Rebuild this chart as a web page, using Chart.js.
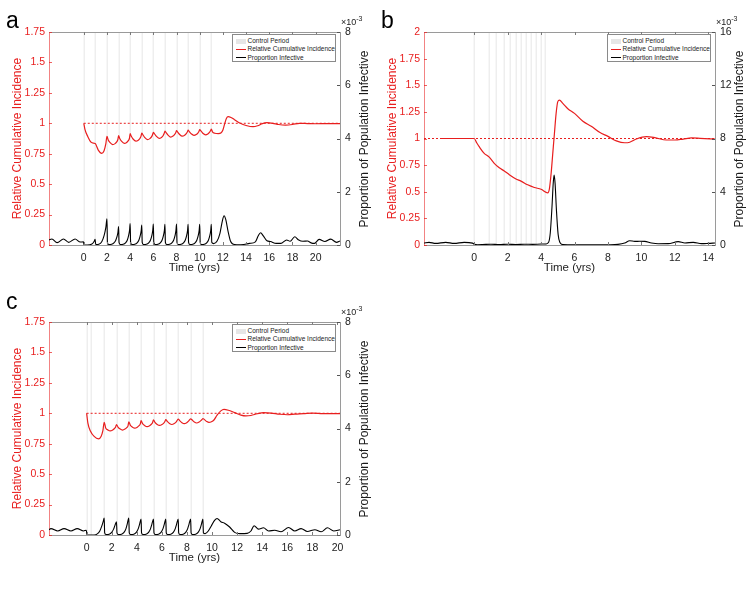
<!DOCTYPE html>
<html><head><meta charset="utf-8">
<script src="https://cdn.jsdelivr.net/npm/chart.js@4.4.1/dist/chart.umd.min.js"></script>
<style>
body{margin:0;background:#fff;width:750px;height:600px;position:relative;overflow:hidden;font-family:"Liberation Sans",Arial,Helvetica,sans-serif;}
.panel{position:absolute;width:375px;height:290px;}
.panel canvas{position:absolute;left:0;top:0;}
.letter{position:absolute;font-size:23px;line-height:23px;color:#000;}
.rtitle{position:absolute;font-size:12px;line-height:14px;white-space:nowrap;transform:translate(-50%,-50%) rotate(-90deg);color:#1a1a1a;}
.expo{position:absolute;font-size:9px;line-height:10px;color:#1a1a1a;white-space:nowrap;}
.expo sup{font-size:7px;vertical-align:4px;line-height:0;}
.legend{position:absolute;border:1px solid #8a8a8a;background:#fff;box-sizing:border-box;}
.legend .row{position:absolute;left:0;height:8px;font-size:6.5px;line-height:8px;color:#222;white-space:nowrap;}
.legend .sw{position:absolute;left:3px;width:10px;}
.legend .tx{position:absolute;left:15px;top:0;}
</style>
</head><body>
<script>
// ---------- axis ranges & ticks ----------
const xRangeA = [-3, 22.1];
const xRangeB = [-3, 14.4];
const xRangeC = [-3, 20.2];
const xTicksA = [0, 2, 4, 6, 8, 10, 12, 14, 16, 18, 20];
const xTicksB = [0, 2, 4, 6, 8, 10, 12, 14];
const xTicksC = [0, 2, 4, 6, 8, 10, 12, 14, 16, 18, 20];
const relTicksA = [0, 0.25, 0.5, 0.75, 1, 1.25, 1.5, 1.75];
const relTicksB = [0, 0.25, 0.5, 0.75, 1, 1.25, 1.5, 1.75, 2];
const relTicksC = [0, 0.25, 0.5, 0.75, 1, 1.25, 1.5, 1.75];
const infTicksA = [0, 2, 4, 6, 8];     // x10^-3
const infTicksB = [0, 4, 8, 12, 16];   // x10^-3
const infTicksC = [0, 2, 4, 6, 8];     // x10^-3
const legendLabels = ['Control Period', 'Relative Cumulative Incidence', 'Proportion Infective'];

// ---------- control periods (years) ----------
const controlA = [0, 1, 2, 3, 4, 5, 6, 7, 8, 9, 10, 11];
const controlB = [0, 0.87, 1.33, 1.79, 2.15, 2.48, 2.82, 3.12, 3.42, 3.7, 3.98, 4.23];
const controlC = [0, 0.32, 1.42, 2.4, 3.37, 4.35, 5.34, 6.32, 7.31, 8.3, 9.28];

// ---------- reference line (relative incidence = 1) ----------
const refLineA = [[0, 1], [22.1, 1]];
const refLineB = [[-3, 1], [14.4, 1]];
const refLineC = [[0, 1], [20.2, 1]];

// ---------- panel a ----------
const relIncA = [[0,1],[0.1,0.95],[0.35,0.89],[0.65,0.843],[0.9,0.836],[1.0,0.832],[1.25,0.78],[1.55,0.753],[1.75,0.775],[1.9,0.83],[2,0.893],
[2.1,0.865],[2.25,0.843],[2.5,0.825],[2.7,0.833],[2.84,0.847],[2.94,0.867],[3,0.898],
[3.1,0.875],[3.25,0.853],[3.5,0.835],[3.7,0.843],[3.84,0.857],[3.94,0.877],[4,0.915],
[4.1,0.893],[4.25,0.871],[4.5,0.853],[4.7,0.861],[4.84,0.875],[4.94,0.895],[5,0.92],
[5.1,0.906],[5.25,0.884],[5.5,0.866],[5.7,0.874],[5.84,0.888],[5.94,0.908],[6,0.926],
[6.1,0.914],[6.25,0.894],[6.5,0.876],[6.7,0.884],[6.84,0.898],[6.94,0.918],[7,0.935],
[7.1,0.923],[7.25,0.905],[7.5,0.887],[7.7,0.895],[7.84,0.909],[7.94,0.925],[8,0.94],
[8.1,0.928],[8.25,0.91],[8.5,0.894],[8.7,0.902],[8.84,0.915],[8.94,0.93],[9,0.943],
[9.1,0.932],[9.25,0.915],[9.5,0.9],[9.7,0.907],[9.84,0.92],[9.94,0.935],[10,0.948],
[10.1,0.937],[10.25,0.92],[10.5,0.905],[10.7,0.912],[10.84,0.925],[10.94,0.94],[11,0.953],
[11.1,0.93],[11.3,0.918],[11.6,0.915],[11.85,0.922],[12,0.945],[12.15,0.995],[12.3,1.04],[12.45,1.055],[12.7,1.048],[13,1.03],[13.5,1.0],[14,0.982],[14.6,0.972],[15,0.98],[15.4,0.997],[15.8,1.005],[16.3,1.0],[16.8,0.99],[17.4,0.985],[18,0.99],[18.6,1.0],[19.3,0.998],[20,0.996],[21,0.998],[22.1,0.998]];
const infA = [[-3,0.19],[-2.75,0.225],[-2.3,0.09],[-1.75,0.225],[-1.3,0.1],[-0.75,0.225],[-0.3,0.11],[-0.03,0.12],[0.03,0.0],[0.5,0.01],[0.75,0.05],[0.9,0.14],[0.98,0.21],[1.03,0.02],[1.3,0.03],[1.55,0.12],[1.75,0.35],[1.9,0.65],[2,0.98],
[2.04,0.1],[2.15,0.02],[2.4,0.03],[2.6,0.08],[2.75,0.17],[2.87,0.32],[2.95,0.49],[3,0.69],
[3.04,0.1],[3.15,0.02],[3.4,0.03],[3.6,0.08],[3.75,0.18],[3.87,0.36],[3.95,0.56],[4,0.81],
[4.04,0.1],[4.15,0.02],[4.4,0.03],[4.6,0.08],[4.75,0.18],[4.87,0.35],[4.95,0.53],[5,0.75],
[5.04,0.1],[5.15,0.02],[5.4,0.03],[5.6,0.08],[5.75,0.18],[5.87,0.35],[5.95,0.55],[6,0.79],
[6.04,0.1],[6.15,0.02],[6.4,0.03],[6.6,0.08],[6.75,0.18],[6.87,0.35],[6.95,0.54],[7,0.78],
[7.04,0.1],[7.15,0.02],[7.4,0.03],[7.6,0.08],[7.75,0.18],[7.87,0.35],[7.95,0.55],[8,0.79],
[8.04,0.1],[8.15,0.02],[8.4,0.03],[8.6,0.08],[8.75,0.18],[8.87,0.35],[8.95,0.54],[9,0.78],
[9.04,0.1],[9.15,0.02],[9.4,0.03],[9.6,0.08],[9.75,0.18],[9.87,0.35],[9.95,0.54],[10,0.78],
[10.04,0.1],[10.15,0.02],[10.4,0.03],[10.6,0.08],[10.75,0.18],[10.87,0.35],[10.95,0.54],[11,0.78],
[11.04,0.1],[11.2,0.05],[11.5,0.15],[11.75,0.45],[11.95,0.9],[12.1,1.1],[12.25,0.95],[12.45,0.5],[12.65,0.15],[12.85,0.04],[13.2,0.01],[13.8,0.02],[14.3,0.06],[14.8,0.12],[15.05,0.35],[15.25,0.46],[15.5,0.33],[15.8,0.16],[16.1,0.13],[16.6,0.06],[17,0.06],[17.5,0.19],[17.8,0.14],[18.2,0.31],[18.5,0.2],[18.9,0.14],[19.3,0.15],[19.6,0.08],[19.9,0.06],[20.3,0.21],[20.8,0.13],[21.3,0.22],[21.8,0.1],[22.1,0.15]];

// ---------- panel b ----------
const relIncB = [[-2,1],[0,1],[0.15,0.96],[0.3,0.923],[0.6,0.86],[0.9,0.825],[1.2,0.767],[1.5,0.725],[1.8,0.695],[2.1,0.66],[2.5,0.62],[2.8,0.6],[3.2,0.565],[3.6,0.54],[4.0,0.523],[4.4,0.49],[4.5,0.53],[4.6,0.67],[4.7,0.86],[4.8,1.05],[4.9,1.236],[5.0,1.346],[5.1,1.36],[5.3,1.33],[5.6,1.28],[6.0,1.236],[6.5,1.162],[7.0,1.115],[7.5,1.058],[8.0,1.02],[8.5,0.978],[9.0,0.96],[9.3,0.965],[9.7,0.995],[10.3,1.017],[10.8,1.008],[11.5,0.986],[12,0.986],[12.5,0.995],[13,1.005],[13.5,1.002],[14.4,0.995]];
const infB = [[-3,0.15],[-2.7,0.2],[-2.3,0.12],[-1.7,0.2],[-1.2,0.12],[-0.6,0.2],[-0.1,0.14],[0.02,0.05],[0.2,0.02],[0.5,0.03],[1.0,0.06],[1.5,0.03],[2.0,0.06],[2.5,0.04],[3.0,0.06],[3.5,0.05],[4.0,0.07],[4.3,0.08],[4.45,0.2],[4.55,0.9],[4.65,2.8],[4.73,4.7],[4.78,5.25],[4.84,4.6],[4.92,2.6],[5.02,0.8],[5.12,0.2],[5.3,0.03],[6,0.01],[7,0.01],[8,0.02],[8.6,0.05],[9.0,0.15],[9.3,0.32],[9.6,0.27],[9.9,0.28],[10.2,0.27],[10.6,0.15],[11,0.09],[11.6,0.1],[12.2,0.25],[12.6,0.15],[13.1,0.2],[13.6,0.1],[14.0,0.12],[14.4,0.15]];

// ---------- panel c ----------
const relIncC = [[0,1],[0.1,0.92],[0.3,0.855],[0.6,0.81],[0.95,0.79],[1.15,0.81],[1.3,0.86],[1.4,0.926],
[1.52,0.88],[1.7,0.863],[1.88,0.855],[2.08,0.863],[2.22,0.875],[2.32,0.89],[2.38,0.908],
[2.5,0.887],[2.68,0.87],[2.86,0.862],[3.06,0.87],[3.2,0.882],[3.3,0.897],[3.36,0.93],
[3.48,0.903],[3.66,0.886],[3.84,0.878],[4.04,0.886],[4.18,0.898],[4.28,0.913],[4.34,0.94],
[4.46,0.915],[4.64,0.898],[4.82,0.89],[5.02,0.898],[5.16,0.91],[5.26,0.925],[5.33,0.946],
[5.45,0.925],[5.63,0.908],[5.81,0.9],[6.01,0.908],[6.15,0.92],[6.25,0.935],[6.31,0.949],
[6.43,0.933],[6.61,0.916],[6.79,0.908],[6.99,0.916],[7.13,0.928],[7.23,0.943],[7.3,0.953],
[7.42,0.94],[7.6,0.923],[7.78,0.915],[7.98,0.923],[8.12,0.935],[8.22,0.948],[8.29,0.955],
[8.41,0.945],[8.59,0.928],[8.77,0.92],[8.97,0.928],[9.11,0.94],[9.21,0.95],[9.27,0.957],
[9.39,0.948],[9.57,0.933],[9.75,0.925],[9.95,0.93],[10.15,0.945],[10.4,0.985],[10.7,1.02],[10.95,1.032],[11.3,1.025],[11.8,1.005],[12.3,0.985],[12.7,0.978],[13.1,0.982],[13.6,0.996],[14.1,1.006],[14.7,1.002],[15.4,0.992],[16.0,0.988],[16.6,0.993],[17.3,0.997],[18.0,1.002],[18.8,0.998],[19.6,0.997],[20.2,0.998]];
const infC = [[-3,0.2],[-2.85,0.24],[-2.3,0.15],[-1.8,0.24],[-1.25,0.15],[-0.75,0.24],[-0.25,0.15],[-0.03,0.18],[0.04,0.0],[0.6,0.0],[0.85,0.04],[1.05,0.15],[1.22,0.35],[1.33,0.52],[1.4,0.64],
[1.44,0.08],[1.55,0.02],[1.8,0.03],[2.0,0.1],[2.15,0.22],[2.26,0.36],[2.38,0.5],
[2.42,0.08],[2.53,0.02],[2.78,0.03],[2.98,0.1],[3.13,0.23],[3.24,0.42],[3.36,0.64],
[3.4,0.08],[3.51,0.02],[3.76,0.03],[3.96,0.1],[4.11,0.23],[4.22,0.4],[4.34,0.6],
[4.38,0.08],[4.49,0.02],[4.74,0.03],[4.94,0.1],[5.09,0.23],[5.2,0.4],[5.33,0.6],
[5.37,0.08],[5.48,0.02],[5.73,0.03],[5.93,0.1],[6.08,0.23],[6.19,0.4],[6.31,0.6],
[6.35,0.08],[6.46,0.02],[6.71,0.03],[6.91,0.1],[7.06,0.23],[7.17,0.4],[7.3,0.6],
[7.34,0.08],[7.45,0.02],[7.7,0.03],[7.9,0.1],[8.05,0.23],[8.16,0.4],[8.29,0.6],
[8.33,0.08],[8.44,0.02],[8.69,0.03],[8.89,0.1],[9.04,0.23],[9.15,0.4],[9.27,0.6],
[9.31,0.08],[9.45,0.05],[9.7,0.15],[9.95,0.35],[10.2,0.55],[10.4,0.62],[10.7,0.5],[11.0,0.44],[11.4,0.3],[11.8,0.1],[12.2,0.05],[12.8,0.06],[13.1,0.15],[13.35,0.35],[13.7,0.22],[14.1,0.27],[14.5,0.15],[15.0,0.18],[15.5,0.12],[16.1,0.28],[16.6,0.15],[17.1,0.24],[17.6,0.13],[18.2,0.2],[18.7,0.12],[19.2,0.27],[19.7,0.15],[20.2,0.2]];

// ---------- drawing ----------
const RED = 'rgb(232,30,30)';
const decor = {
  id: 'decor',
  beforeDatasetsDraw(chart, args, opts) {
    const {ctx, chartArea: a, scales: {x}} = chart;
    ctx.save();
    ctx.strokeStyle = '#ececec'; ctx.lineWidth = 1.3;
    (opts.control || []).forEach(t => {
      const px = Math.round(x.getPixelForValue(t)) + 0.25;
      ctx.beginPath(); ctx.moveTo(px, a.top); ctx.lineTo(px, a.bottom); ctx.stroke();
    });
    ctx.restore();
  },
  afterDraw(chart) {
    const {ctx, chartArea: a, scales: {x, y, y1}} = chart;
    ctx.save();
    ctx.lineWidth = 1;
    ctx.strokeStyle = '#9a9a9a';
    ctx.beginPath(); ctx.moveTo(a.left, a.top + 0.5); ctx.lineTo(a.right, a.top + 0.5); ctx.stroke();
    ctx.strokeStyle = '#7a7a7a';
    x.ticks.forEach(t => {
      const px = Math.round(x.getPixelForValue(t.value)) + 0.5;
      ctx.beginPath(); ctx.moveTo(px, a.bottom); ctx.lineTo(px, a.bottom - 3); ctx.stroke();
      ctx.beginPath(); ctx.moveTo(px, a.top); ctx.lineTo(px, a.top + 3); ctx.stroke();
    });
    ctx.strokeStyle = 'rgba(232,30,30,0.7)';
    y.ticks.forEach(t => {
      const py = Math.round(y.getPixelForValue(t.value)) + 0.5;
      ctx.beginPath(); ctx.moveTo(a.left, py); ctx.lineTo(a.left + 3, py); ctx.stroke();
    });
    ctx.strokeStyle = '#555';
    y1.ticks.forEach(t => {
      const py = Math.round(y1.getPixelForValue(t.value)) + 0.5;
      ctx.beginPath(); ctx.moveTo(a.right, py); ctx.lineTo(a.right - 3, py); ctx.stroke();
    });
    ctx.restore();
  }
};

function pts(arr) { return arr.map(p => ({x: p[0], y: p[1]})); }
function fmt(v) { return String(+Number(v).toFixed(2)); }

function build(P) {
  const host = document.createElement('div');
  host.className = 'panel';
  host.style.left = P.left + 'px'; host.style.top = P.top + 'px';
  document.body.appendChild(host);
  const canvas = document.createElement('canvas');
  canvas.width = 375; canvas.height = 290;
  canvas.style.width = '375px'; canvas.style.height = '290px';
  host.appendChild(canvas);
  const line = {showLine: true, pointRadius: 0, pointHoverRadius: 0, cubicInterpolationMode: 'monotone', fill: false};
  new Chart(canvas, {
    type: 'scatter',
    data: {datasets: [
      Object.assign({data: pts(P.inf), yAxisID: 'y1', borderColor: '#000', borderWidth: 1.1, order: 1}, line),
      Object.assign({data: pts(P.rel), yAxisID: 'y', borderColor: RED, borderWidth: 1.2, order: 2}, line),
      Object.assign({data: pts(P.ref), yAxisID: 'y', borderColor: RED, borderWidth: 1, borderDash: [2, 2], order: 3}, line)
    ]},
    options: {
      responsive: false, animation: false, devicePixelRatio: 1,
      layout: {padding: {top: 32, left: 0, right: 0, bottom: 0}},
      plugins: {legend: {display: false}, tooltip: {enabled: false}, decor: {control: P.control}},
      scales: {
        x: {
          type: 'linear', position: 'bottom', min: P.xr[0], max: P.xr[1],
          afterFit: s => { s.height = 45; },
          afterBuildTicks: s => { s.ticks = P.xt.map(v => ({value: v})); },
          grid: {display: false, drawTicks: false},
          border: {color: '#9a9a9a', width: 1},
          ticks: {color: '#222', font: {size: 10.5}, padding: 7, autoSkip: false, maxRotation: 0, callback: v => fmt(v)},
          title: {display: true, text: 'Time (yrs)', color: '#222', font: {size: 11.5}, padding: {top: 0, bottom: 15}}
        },
        y: {
          type: 'linear', position: 'left', min: 0, max: P.yMax,
          afterFit: s => { s.width = 49; },
          afterBuildTicks: s => { s.ticks = P.yt.map(v => ({value: v})); },
          grid: {display: false, drawTicks: false},
          border: {color: 'rgba(232,30,30,0.55)', width: 1},
          ticks: {color: RED, font: {size: 10.5}, padding: 4, callback: v => fmt(v)},
          title: {display: true, text: 'Relative Cumulative Incidence', color: RED, font: {size: 12}, padding: {top: 10, bottom: 0}}
        },
        y1: {
          type: 'linear', position: 'right', min: 0, max: P.y1Max,
          afterFit: s => { s.width = 35; },
          afterBuildTicks: s => { s.ticks = P.y1t.map(v => ({value: v})); },
          grid: {display: false, drawTicks: false},
          border: {color: '#9a9a9a', width: 1},
          ticks: {color: '#222', font: {size: 10.5}, padding: 5, callback: v => fmt(v)}
        }
      }
    },
    plugins: [decor]
  });

  // panel letter
  const L = document.createElement('div');
  L.className = 'letter'; L.textContent = P.letter;
  L.style.left = (P.left + 6) + 'px'; L.style.top = (P.top + P.letterTop) + 'px';
  document.body.appendChild(L);
  // right axis title
  const R = document.createElement('div');
  R.className = 'rtitle'; R.textContent = 'Proportion of Population Infective';
  R.style.left = (P.left + 364) + 'px'; R.style.top = (P.top + 138.5) + 'px';
  document.body.appendChild(R);
  // exponent
  const E = document.createElement('div');
  E.className = 'expo'; E.innerHTML = '\u00d710<sup>-3</sup>';
  E.style.left = (P.left + 341) + 'px'; E.style.top = (P.top + P.expoTop) + 'px';
  document.body.appendChild(E);
  // legend
  const G = document.createElement('div');
  G.className = 'legend';
  G.style.left = (P.left + 231.5) + 'px'; G.style.top = (P.top + 34) + 'px';
  G.style.width = '104px'; G.style.height = '28px';
  legendLabels.forEach((lab, i) => {
    const row = document.createElement('div');
    row.className = 'row'; row.style.top = (2 + i * 8.3) + 'px';
    const sw = document.createElement('div'); sw.className = 'sw';
    if (i === 0) { sw.style.top = '1.5px'; sw.style.height = '5px'; sw.style.background = '#e6e6e6'; }
    else { sw.style.top = '3.5px'; sw.style.height = '1.2px'; sw.style.background = i === 1 ? RED : '#000'; }
    const tx = document.createElement('div'); tx.className = 'tx'; tx.textContent = lab;
    row.appendChild(sw); row.appendChild(tx); G.appendChild(row);
  });
  document.body.appendChild(G);
}

build({left: 0, top: 0, letter: 'a', letterTop: 9, expoTop: 17, xr: xRangeA, xt: xTicksA, yMax: 1.75, yt: relTicksA, y1Max: 8, y1t: infTicksA, control: controlA, ref: refLineA, rel: relIncA, inf: infA});
build({left: 375, top: 0, letter: 'b', letterTop: 9, expoTop: 17, xr: xRangeB, xt: xTicksB, yMax: 2, yt: relTicksB, y1Max: 16, y1t: infTicksB, control: controlB, ref: refLineB, rel: relIncB, inf: infB});
build({left: 0, top: 290, letter: 'c', letterTop: 0, expoTop: 17, xr: xRangeC, xt: xTicksC, yMax: 1.75, yt: relTicksC, y1Max: 8, y1t: infTicksC, control: controlC, ref: refLineC, rel: relIncC, inf: infC});
</script>
</body></html>
